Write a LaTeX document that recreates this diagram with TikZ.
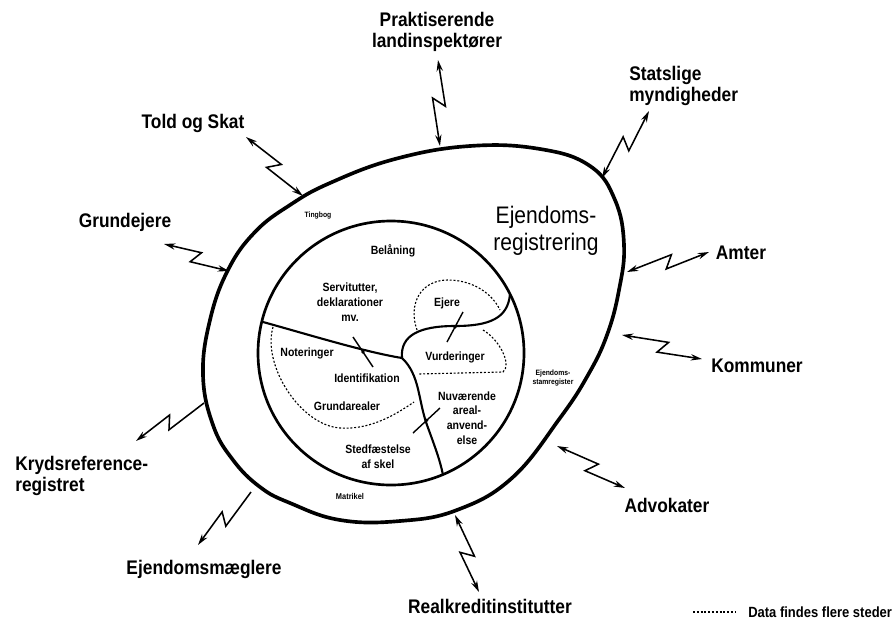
\documentclass[tikz,border=0pt]{standalone}
\usepackage{fontspec}
\setmainfont{Liberation Sans}[FakeStretch=0.88]
\usetikzlibrary{arrows.meta,calc}

\tikzset{
  party/.style={font=\fontsize{14}{15.5}\selectfont\bfseries, align=center, inner sep=0pt},
  field/.style={font=\fontsize{8.5}{10.5}\selectfont\bfseries, align=center, inner sep=0pt},
  minifield/.style={font=\fontsize{5.5}{6.5}\selectfont\bfseries, align=center, inner sep=0pt},
  bolt/.style={line width=1.1pt, line join=miter},
  both tips/.style={arrows={Stealth[length=8pt,width=4.5pt]-Stealth[length=8pt,width=4.5pt]}},
  one tip/.style={arrows={Stealth[length=8pt,width=4.5pt]-}},
  border/.style={line width=1.5pt},
  shared/.style={line width=0.8pt, dash pattern=on 1.4pt off 1.3pt},
  link/.style={line width=1pt}
}

\begin{document}
\begin{tikzpicture}[x=0.025cm, y=-0.025cm]
        \useasboundingbox (0,0) rectangle (893,619);
        % outer register
        \draw[line width=2.6pt] plot[smooth cycle, tension=0.7] coordinates {
          (470,146) (540,149) (590,166) (615,200) (624,245) (619,290) (607,335)
          (588,375) (560,418) (512,478) (457,510) (400,521) (340,520) (290,503)
          (260,487) (233,460) (213,425) (203,375) (210,320) (228,270) (255,232)
          (290,205) (330,183) (395,159)};
        % inner register
        \draw[line width=1.9pt] (391,353) ellipse [x radius=133, y radius=132];
        \draw[border] (263,322) .. controls (310,335) and (365,352) .. (402,358)
          .. controls (400,335) and (420,326) .. (455,326)
          .. controls (490,326) and (508,318) .. (510,294);
        \draw[border] (402,358) .. controls (420,375) and (418,400) .. (427,425)
          .. controls (435,447) and (440,460) .. (443,475);
        % data found in more places
        \draw[shared] (417,330) .. controls (408,305) and (420,280) .. (448,280)
          .. controls (472,280) and (492,293) .. (500,310);
        \draw[shared] (483,330) .. controls (500,340) and (512,365) .. (503,372) -- (418,374);
        \draw[shared] (273,327) .. controls (262,365) and (300,425) .. (340,428)
          .. controls (370,430) and (395,415) .. (414,402);
        % links between fields
        \coordinate (link1 a) at (353,337); \coordinate (link1 b) at (373,367);
        \coordinate (link2 a) at (463,312); \coordinate (link2 b) at (447,342);
        \coordinate (link3 a) at (440,408); \coordinate (link3 b) at (413,433);
        \foreach \l in {link1,link2,link3} {
          \draw[link] (\l\space a) -- (\l\space b);
          \fill ($(\l\space a)!0.5!(\l\space b)$) circle [radius=1.4pt];
        }

        \node (register) [font=\fontsize{17}{19}\selectfont, align=center, inner sep=0pt] at (546,231) {Ejendoms-\\registrering};
        \node (tingbog) [minifield] at (318,216) {Tingbog};
        \node (matrikel) [minifield, font=\fontsize{6}{7}\selectfont\bfseries] at (350,496) {Matrikel};
        \node (stamreg) [minifield] at (553,378) {Ejendoms-\\stamregister};
        \node (belaaning) [field] at (393,251) {Belåning};
        \node (servitutter) [field] at (350,302) {Servitutter,\\deklarationer\\mv.};
        \node (ejere) [field] at (447,303) {Ejere};
        \node (vurderinger) [field] at (455,357) {Vurderinger};
        \node (noteringer) [field] at (307,353) {Noteringer};
        \node (identifikation) [field] at (367,378) {Identifikation};
        \node (grundarealer) [field] at (347,406) {Grundarealer};
        \node (anvendelse) [field] at (467,418) {Nuværende\\areal-\\anvend-\\else};
        \node (skel) [field] at (378,457) {Stedfæstelse\\af skel};

        % users of the register
        \node (prak) [party] at (437,32) {Praktiserende\\landinspektører};
        \node (stat) [party, anchor=west, align=left] at (629,86) {Statslige\\myndigheder};
        \node (told) [party] at (193,123) {Told og Skat};
        \node (grund) [party] at (125,222) {Grundejere};
        \node (amter) [party] at (741,253) {Amter};
        \node (kommuner) [party] at (757,366) {Kommuner};
        \node (kryds) [party, anchor=west, align=left] at (15,476) {Krydsreference-\\registret};
        \node (maegl) [party] at (204,569) {Ejendomsmæglere};
        \node (advokater) [party] at (667,505) {Advokater};
        \node (realkredit) [party] at (490,606) {Realkreditinstitutter};

        \coordinate (prak s) at (438,60);   \coordinate (prak e) at (440,146);
        \coordinate (stat s) at (649,111);  \coordinate (stat e) at (602,178);
        \coordinate (told s) at (246,137);  \coordinate (told e) at (303,196);
        \coordinate (grund s) at (164,244); \coordinate (grund e) at (229,271);
        \coordinate (amter s) at (709,252); \coordinate (amter e) at (627,272);
        \coordinate (kommuner s) at (702,359); \coordinate (kommuner e) at (622,335);
        \coordinate (advokater s) at (625,488); \coordinate (advokater e) at (557,446);
        \coordinate (realkredit s) at (479,592); \coordinate (realkredit e) at (455,515);
        \coordinate (kryds s) at (136,441); \coordinate (kryds e) at (204,403);
        \coordinate (maegl s) at (198,545); \coordinate (maegl e) at (251,492);
        \foreach \n in {prak,stat,told,grund,amter,kommuner,advokater,realkredit}
          \draw[bolt, both tips] (\n\space s) -- ($(\n\space s)!0.54!(\n\space e)!4.5pt!90:(\n\space e)$)
            -- ($(\n\space s)!0.44!(\n\space e)!4.5pt!-90:(\n\space e)$) -- (\n\space e);
        \foreach \n in {kryds,maegl}
          \draw[bolt, one tip] (\n\space s) -- ($(\n\space s)!0.54!(\n\space e)!4.5pt!90:(\n\space e)$)
            -- ($(\n\space s)!0.44!(\n\space e)!4.5pt!-90:(\n\space e)$) -- (\n\space e);

        % legend
        \coordinate (legend a) at (693,612);
        \node (legend) [font=\fontsize{10.5}{12}\selectfont\bfseries, anchor=west, inner sep=0pt] at (748,612) {Data findes flere steder};
        \draw[shared] (legend a) -- (legend.west -| 736,0);
\end{tikzpicture}
\end{document}
